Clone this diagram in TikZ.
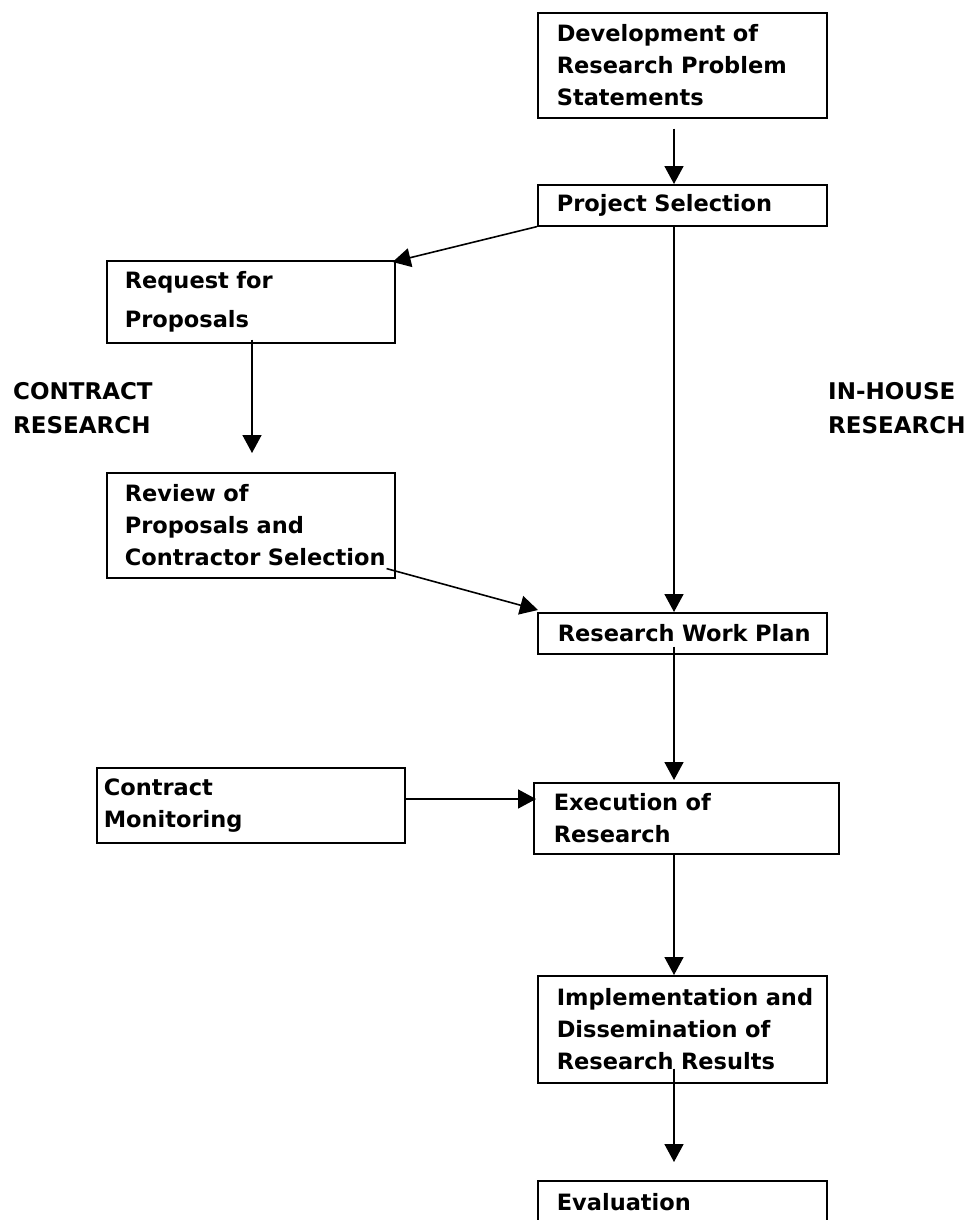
\documentclass[tikz,border=0pt]{standalone}
\usepackage{fontspec}
\setmainfont{DejaVu Sans}
\usetikzlibrary{arrows.meta,calc}
\begin{document}
\begin{tikzpicture}[x=1pt,y=-1pt,
  box/.style={draw, line width=1.6pt, rectangle, anchor=north west, align=left,
    inner ysep=0pt, font=\fontsize{22.5}{32}\selectfont\bfseries},
  lbl/.style={anchor=base west, align=left, inner sep=0pt,
    font=\fontsize{23}{34}\selectfont\bfseries},
  arr/.style={line width=1.6pt, -{Triangle[length=18pt,width=19pt]}}]
\useasboundingbox[fill=white] (0,0) rectangle (969,1220);

\node[box, inner xsep=19pt, text width=251pt, minimum height=105pt] (dev) at (537,12)
  {\mbox{Development of}\\ \mbox{Research Problem}\\ Statements};
\node[box, inner xsep=19pt, text width=251pt, minimum height=41pt] (sel) at (537,184)
  {\mbox{Project Selection}};
\node[box, inner xsep=18pt, text width=252pt, minimum height=82pt] (rfp) at (106,260)
  {\mbox{Request for}\\[7pt] Proposals};
\node[box, inner xsep=18pt, text width=252pt, minimum height=105pt] (rev) at (106,472)
  {\mbox{Review of}\\ \mbox{Proposals and}\\ \mbox{Contractor Selection}};
\node[box, inner xsep=20pt, text width=249pt, minimum height=41pt] (rwp) at (537,612)
  {\mbox{Research Work Plan}};
\node[box, inner xsep=20pt, text width=265pt, minimum height=71pt] (exe) at (533,782)
  {\mbox{Execution of}\\ Research};
\node[box, inner xsep=7pt, text width=294pt, minimum height=75pt] (mon) at (96,767)
  {Contract\\ Monitoring};
\node[box, inner xsep=19pt, text width=251pt, minimum height=107pt] (imp) at (537,975)
  {\mbox{Implementation and}\\ \mbox{Dissemination of}\\ \mbox{Research Results}};
\node[box, inner xsep=19pt, text width=251pt, minimum height=42pt] (eva) at (537,1180)
  {Evaluation};

\node[lbl] (cr) at (13,433) {CONTRACT\\RESEARCH};
\node[lbl] (ih) at (828,433) {IN-HOUSE\\RESEARCH};

\draw[arr] ($(dev.south west)+(137,10)$) -- ($(sel.north west)+(137,0)$);
\draw[arr] (sel.south west) -- ($(rfp.north east)+(-3,2)$);
\draw[arr] ($(rfp.south west)+(146,-4)$) -- ($(rev.north west)+(146,-19)$);
\draw[arr] ($(rev.south east)+(-9,-10)$) -- ($(rwp.north west)+(1,-2)$);
\draw[arr] ($(sel.south west)+(137,0)$) -- ($(rwp.north west)+(137,0)$);
\draw[arr] ($(rwp.south west)+(137,-8)$) -- ($(exe.north west)+(141,-2)$);
\draw[arr] ($(mon.north east)+(0,32)$) -- ($(exe.north west)+(3,17)$);
\draw[arr] ($(exe.south west)+(141,0)$) -- ($(imp.north west)+(137,0)$);
\draw[arr] ($(imp.south west)+(137,-15)$) -- ($(eva.north west)+(137,-18)$);
\end{tikzpicture}
\end{document}
